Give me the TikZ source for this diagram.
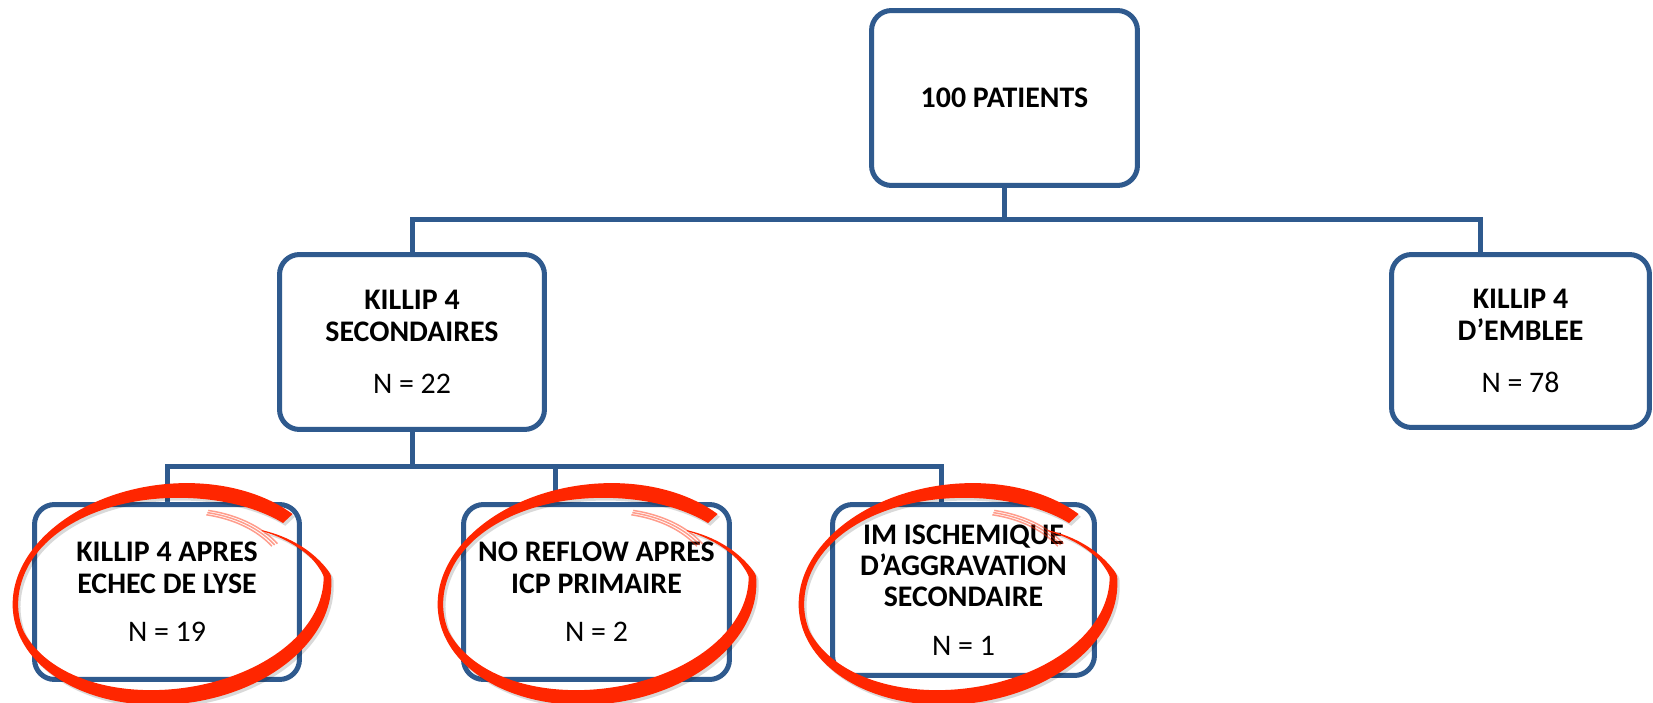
\documentclass[tikz,border=0pt]{standalone}
\usepackage{fontspec}
\setmainfont{Carlito}
\usetikzlibrary{calc}
\definecolor{boxblue}{HTML}{2F5A8E}
\definecolor{ringred}{HTML}{FF2600}
\tikzset{
	box/.style={draw=boxblue,line width=0.1cm,rounded corners=0.4cm,fill=white,minimum width=5.3cm,minimum height=3.5cm,align=center,inner sep=0pt,font=\fontsize{17}{17.8}\selectfont\bfseries},
	link/.style={draw=boxblue,line width=0.1cm},
	ring/.style={fill=ringred},
	ringshadow/.style={fill=black,opacity=0.15},
	scratch/.style={draw=ringred,line width=0.03cm,opacity=0.45}
	}
\newcommand{\ringband}{plot[variable=\t,domain=36:398,samples=160,smooth] ({160*ringk(\t)*cos(\t)},{110*ringk(\t)*sin(\t)}) -- plot[variable=\t,domain=398:36,samples=160,smooth] ({(160*ringk(\t)-ringw(\t))*cos(\t)},{(110*ringk(\t)-ringw(\t))*sin(\t)}) -- cycle}

\begin{document}
\begin{tikzpicture}[x=0.02cm,y=-0.02cm,
		declare function={ringk(\t)=1-0.006*max(0,\t-360);
			ringw(\t)=(5.5+10*(\t<200)*max(0,cos(\t-65))^2+10*max(0,cos(\t-280)))*(1-0.85*min(1,max(0,\t-362)/38));}]
		\useasboundingbox (0,0) rectangle (1653,703);
		\node[box,minimum width=5.32cm] (top) at (1004.5,98) {100 PATIENTS};
		\node[box] (sec) at (412,342) {KILLIP 4\\SECONDAIRES\\[12pt]{\mdseries N = 22}};
		\node[box,minimum width=5.16cm,minimum height=3.46cm] (emb) at (1520.5,341) {KILLIP 4\\D’EMBLEE\\[12pt]{\mdseries N = 78}};
		\node[box] (lyse) at (167,592) {KILLIP 4 APRES\\ECHEC DE LYSE\\[10pt]{\mdseries N = 19}};
		\node[box,minimum width=5.32cm] (reflow) at (596.5,592) {NO REFLOW APRES\\ICP PRIMAIRE\\[10pt]{\mdseries N = 2}};
		\node[box,minimum width=5.24cm,minimum height=3.42cm] (ischem) at (963.5,590) {IM ISCHEMIQUE\\D’AGGRAVATION\\SECONDAIRE\\[10pt]{\mdseries N = 1}};
	
		\coordinate (busA) at (0,219);
		\coordinate (busB) at (0,466);
		\coordinate (embin) at (1480,254);
		\coordinate (reflowin) at (555,504);
		\coordinate (ischemin) at (941,504);
	
		\draw[link] (top.south) -- (top.south |- busA);
		\draw[link] (sec.north) -- (sec.north |- busA) -| (embin);
		\draw[link] (sec.south) -- (sec.south |- busB);
		\draw[link] (lyse.north) -- (lyse.north |- busB) -| (ischemin);
		\draw[link] (reflowin) -- (reflowin |- busB);
	
		% hand-drawn red rings
		\foreach \cx in {172,597,958}{
			\begin{scope}[shift={(\cx,594)},x=0.02cm,y=0.02cm,rotate=7]
				\fill[ringshadow,shift={(2,-3)}] \ringband;
				\fill[ring] \ringband;
				\foreach \k in {0.73,0.75,0.77}
					\draw[scratch] plot[variable=\t,domain=386:428,samples=20,smooth] ({160*\k*cos(\t)},{110*\k*sin(\t)});
			\end{scope}
		}
	\end{tikzpicture}
\end{document}
